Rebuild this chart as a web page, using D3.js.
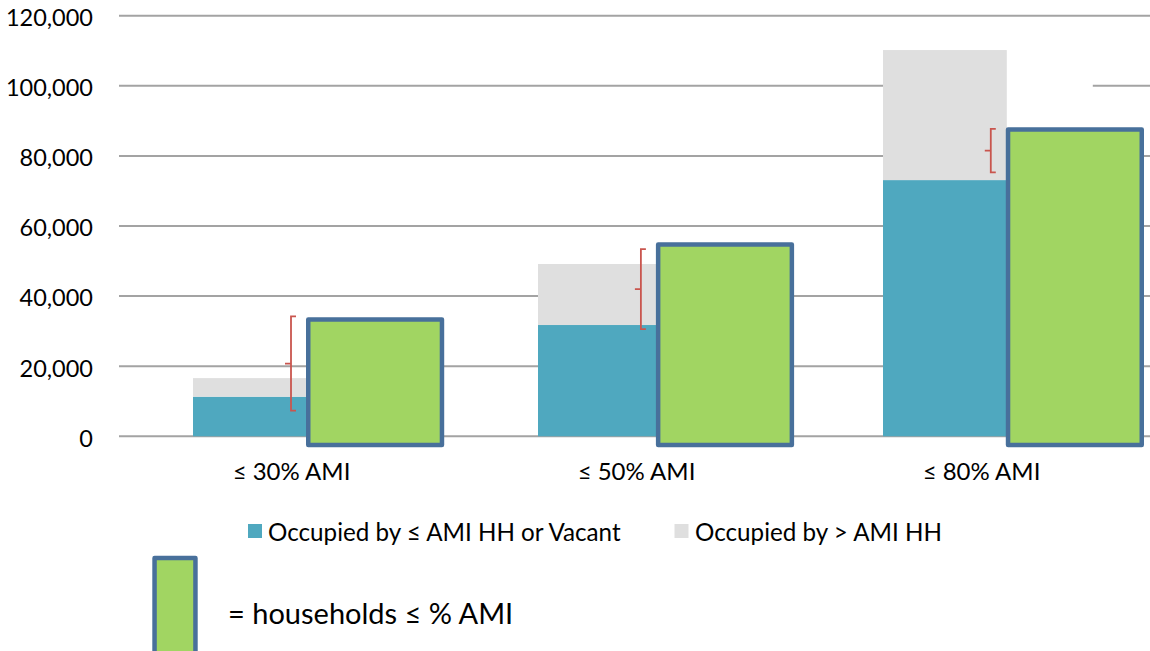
<!DOCTYPE html>
<html>
<head>
<meta charset="utf-8">
<script src="https://cdn.jsdelivr.net/npm/d3@7/dist/d3.min.js"></script>
<style>
  html, body { margin: 0; padding: 0; background: #fff; }
  svg { display: block; font-family: Lato, "Open Sans", sans-serif; }
</style>
</head>
<body>
<svg id="chart" width="1150" height="651"></svg>
<script>
// ---- data ----
const categories = ["≤ 30% AMI", "≤ 50% AMI", "≤ 80% AMI"];
const occupiedLowOrVacant = [11300, 31750, 73100];   // teal
const occupiedHigh = [5300, 17400, 37100];           // light gray (stacked on teal)
const households = [33300, 54700, 87500];            // green boxes
const gapTop = [34200, 53400, 87700];                 // red bracket top
const gapBottom = [7300, 30600, 75300];               // red bracket bottom
const yTicks = [0, 20000, 40000, 60000, 80000, 100000, 120000];
const legendLabels = ["Occupied by ≤ AMI HH or Vacant", "Occupied by > AMI HH"];
const noteLabel = "= households ≤ % AMI";

// ---- styles ----
const C = {
  teal: "#4fa8bf", gray: "#dfdfdf", green: "#a1d562", stroke: "#48709b",
  red: "#c9554e", grid: "#a3a3a3", text: "#000"
};

const svg = d3.select("#chart");
const plot = { left: 119, right: 1154, top: 15.7, bottom: 436.3 };

const x = d3.scaleBand().domain(categories)
  .range([plot.left, plot.right]).paddingInner(0.429).paddingOuter(0.2145);
const xGreen = d3.scaleBand().domain(categories)
  .range([306, 1144]).paddingInner(0.605).paddingOuter(0);
const y = d3.scaleLinear().domain([0, 120000]).range([plot.bottom, plot.top]);

// gridlines
svg.append("g").selectAll("line").data(yTicks).join("line")
  .attr("x1", plot.left).attr("x2", 1150)
  .attr("y1", d => y(d)).attr("y2", d => y(d))
  .attr("stroke", C.grid).attr("stroke-width", 2);

// y axis labels
const yAxis = d3.axisLeft(y).tickValues(yTicks).tickFormat(d3.format(",")).tickSize(0).tickPadding(0);
const yg = svg.append("g").attr("transform", `translate(93,0)`).call(yAxis);
yg.select(".domain").remove();
yg.selectAll("text").attr("font-size", 23.5).attr("fill", C.text)
  .attr("font-family", "Lato, sans-serif").attr("dy", "0.42em");

// white patch (breaks the 100,000 gridline right of the last bar in the original)
const lastC = categories[categories.length - 1];
svg.append("rect")
  .attr("x", xGreen(lastC)).attr("width", 87)
  .attr("y", y(100000) - 6).attr("height", 12).attr("fill", "#fff");

// stacked bars (visible part ends where the green box starts)
const rows = categories.map((c, i) => ({ c, low: occupiedLowOrVacant[i], high: occupiedHigh[i] }));
const stack = d3.stack().keys(["low", "high"])(rows);
const fills = { low: C.teal, high: C.gray };
svg.append("g").selectAll("g").data(stack).join("g")
  .attr("fill", s => fills[s.key])
  .selectAll("rect").data(s => s).join("rect")
  .attr("x", d => x(d.data.c)).attr("width", d => xGreen(d.data.c) + 1 - x(d.data.c))
  .attr("y", d => y(d[1])).attr("height", d => y(d[0]) - y(d[1]));

// green household boxes
const sw = 4.5, below = 8.8;
svg.append("g").selectAll("rect").data(categories).join("rect")
  .attr("x", c => xGreen(c) + sw / 2)
  .attr("width", xGreen.bandwidth() - sw)
  .attr("y", (c, i) => y(households[i]))
  .attr("height", (c, i) => y(0) + below - y(households[i]))
  .attr("fill", C.green).attr("stroke", C.stroke).attr("stroke-width", sw)
  .attr("stroke-linejoin", "round");

// red brackets
svg.append("g").selectAll("path").data(categories).join("path")
  .attr("d", (c, i) => {
    const bx = xGreen(c) - 15, t = y(gapTop[i]), b = y(gapBottom[i]), m = (t + b) / 2;
    return `M${bx + 5},${t} L${bx},${t} L${bx},${b} L${bx + 5},${b} M${bx - 6},${m} L${bx},${m}`;
  })
  .attr("fill", "none").attr("stroke", C.red).attr("stroke-width", 1.8);

// category labels
svg.append("g").selectAll("text").data(categories).join("text")
  .attr("x", c => x(c) + x.bandwidth() / 2).attr("y", 480)
  .attr("text-anchor", "middle").attr("font-size", 24).attr("fill", C.text)
  .text(c => c);

// legend
const legend = [
  { label: legendLabels[0], color: C.teal, sx: 248, tx: 268 },
  { label: legendLabels[1], color: C.gray, sx: 674.5, tx: 695 }
];
const lg = svg.append("g");
lg.selectAll("rect").data(legend).join("rect")
  .attr("x", d => d.sx).attr("y", 524).attr("width", 14).attr("height", 14).attr("fill", d => d.color);
lg.selectAll("text").data(legend).join("text")
  .attr("x", d => d.tx).attr("y", 541).attr("font-size", 24.2).attr("fill", C.text)
  .text(d => d.label);

// green legend box + note
svg.append("rect").attr("x", 152.3 + sw / 2).attr("y", 555.7 + sw / 2)
  .attr("width", 45.4 - sw).attr("height", 120)
  .attr("fill", C.green).attr("stroke", C.stroke).attr("stroke-width", sw).attr("stroke-linejoin", "round");
svg.append("text").attr("x", 228).attr("y", 624).attr("font-size", 29).attr("fill", C.text)
  .text(noteLabel);
</script>
</body>
</html>
